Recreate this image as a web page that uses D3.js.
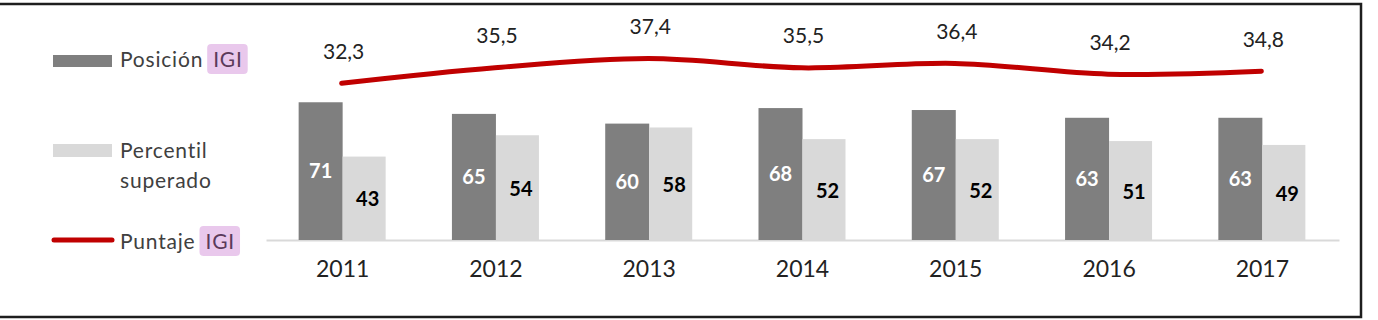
<!DOCTYPE html>
<html>
<head>
<meta charset="utf-8">
<script src="https://cdn.jsdelivr.net/npm/d3@7"></script>
<style>
  html, body { margin: 0; padding: 0; background: #fff; }
  svg { display: block; font-family: Lato, 'Open Sans', sans-serif; }
</style>
</head>
<body>
<svg id="chart" width="1378" height="320"></svg>
<script>
var years = ['2011', '2012', '2013', '2014', '2015', '2016', '2017'];
var posicion = [71, 65, 60, 68, 67, 63, 63];
var percentil = [43, 54, 58, 52, 52, 51, 49];
var puntaje = [32.3, 35.5, 37.4, 35.5, 36.4, 34.2, 34.8];
var legendItems = ['Posición', 'Percentil', 'Puntaje'];

var
  svg = d3.select('#chart'),
  baseY = 240,
  xScale = d3.scaleBand().domain(years).range([266, 1339]),
  barScale = d3.scaleBand().domain(['pos', 'pct']).range([-44, 44]),
  yBars = d3.scaleLinear().domain([0, 100]).range([baseY, 46]),
  yLine = d3.scaleLinear().domain([0, 40]).range([baseY, 46]),
  cx = d => xScale(d) + xScale.bandwidth() / 2,
  comma = v => d3.format('.1f')(v).replace('.', ','),
  rows = years.map((y, i) => ({year: y, pos: posicion[i], pct: percentil[i], score: puntaje[i]}))
  ;

// frame
svg.append('path')
  .attr('d', 'M0,4H1361V317H0')
  .attr('fill', 'none')
  .attr('stroke', '#1e1e1e')
  .attr('stroke-width', 2.5);

// x axis
var xAxis = d3.axisBottom(xScale).tickSize(0).tickSizeOuter(0).tickPadding(21);
var gx = svg.append('g')
  .attr('transform', `translate(0,${baseY})`)
  .call(xAxis);
gx.select('.domain').attr('stroke', '#d9d9d9').attr('stroke-width', 2);
gx.selectAll('text')
  .attr('font-size', '23px')
  .attr('font-family', 'Lato, sans-serif')
  .attr('fill', '#222');

// bars
var groups = svg.selectAll('.year')
  .data(rows)
  .enter()
  .append('g')
  .attr('class', 'year')
  .attr('transform', d => `translate(${cx(d.year)},0)`);

groups.append('rect')
  .attr('x', barScale('pos'))
  .attr('y', d => yBars(d.pos))
  .attr('width', barScale.bandwidth())
  .attr('height', d => baseY - yBars(d.pos))
  .attr('fill', '#7f7f7f');

groups.append('rect')
  .attr('x', barScale('pct'))
  .attr('y', d => yBars(d.pct))
  .attr('width', barScale.bandwidth() - 1)
  .attr('height', d => baseY - yBars(d.pct))
  .attr('fill', '#d9d9d9');

groups.append('text')
  .text(d => d.pos)
  .attr('x', barScale('pos') + barScale.bandwidth() / 2)
  .attr('y', d => (yBars(d.pos) + baseY) / 2)
  .attr('dy', '0.36em')
  .attr('text-anchor', 'middle')
  .attr('font-size', '20px')
  .attr('font-weight', 700)
  .attr('fill', '#fff');

groups.append('text')
  .text(d => d.pct)
  .attr('x', barScale('pct') + barScale.bandwidth() / 2 + 3)
  .attr('y', d => (yBars(d.pct) + baseY) / 2 + 1)
  .attr('dy', '0.36em')
  .attr('text-anchor', 'middle')
  .attr('font-size', '20px')
  .attr('font-weight', 700)
  .attr('fill', '#000');

// score line
var line = d3.line()
  .curve(d3.curveCatmullRom)
  .x(d => cx(d.year) - 1)
  .y(d => yLine(d.score));

svg.append('path')
  .datum(rows)
  .attr('d', line)
  .attr('fill', 'none')
  .attr('stroke', '#c00000')
  .attr('stroke-width', 5)
  .attr('stroke-linecap', 'round');

svg.selectAll('.score')
  .data(rows)
  .enter()
  .append('text')
  .attr('class', 'score')
  .text(d => comma(d.score))
  .attr('x', d => cx(d.year) + 1)
  .attr('y', d => yLine(d.score) - 32)
  .attr('dy', '0.36em')
  .attr('text-anchor', 'middle')
  .attr('font-size', '21px')
  .attr('fill', '#222');

// legend
var legend = svg.append('g').attr('class', 'legend');

legend.append('rect')
  .attr('x', 53).attr('y', 55).attr('width', 59).attr('height', 12)
  .attr('fill', '#7f7f7f');
legend.append('rect')
  .attr('x', 53).attr('y', 144).attr('width', 59).attr('height', 13)
  .attr('fill', '#d9d9d9');
legend.append('line')
  .attr('x1', 54).attr('x2', 112).attr('y1', 240).attr('y2', 240)
  .attr('stroke', '#c00000').attr('stroke-width', 5).attr('stroke-linecap', 'round');

function legendText(txt, y, tag) {
  var t = legend.append('text')
    .text(txt)
    .attr('x', 120)
    .attr('y', y)
    .attr('dy', '0.36em')
    .attr('font-size', '21px')
    .attr('letter-spacing', '0.8px')
    .attr('fill', '#404040');
  if (!tag) return;
  var
    endX = 120 + t.node().getComputedTextLength() + 10,
    box = legend.insert('rect', 'text')
      .attr('fill', '#e9c8ec')
      .attr('rx', 4),
    igi = legend.append('text')
      .text(tag)
      .attr('x', endX)
      .attr('y', y)
      .attr('dy', '0.36em')
      .attr('font-size', '21px')
      .attr('letter-spacing', '0.8px')
      .attr('fill', '#5a3a5a'),
    w = igi.node().getComputedTextLength();
  box.attr('x', endX - 6).attr('y', y - 15).attr('width', w + 11).attr('height', 30);
}

legendText(legendItems[0], 59, 'IGI');
legendText(legendItems[1], 150);
legendText('superado', 180);
legendText(legendItems[2], 241, 'IGI');
</script>
</body>
</html>
